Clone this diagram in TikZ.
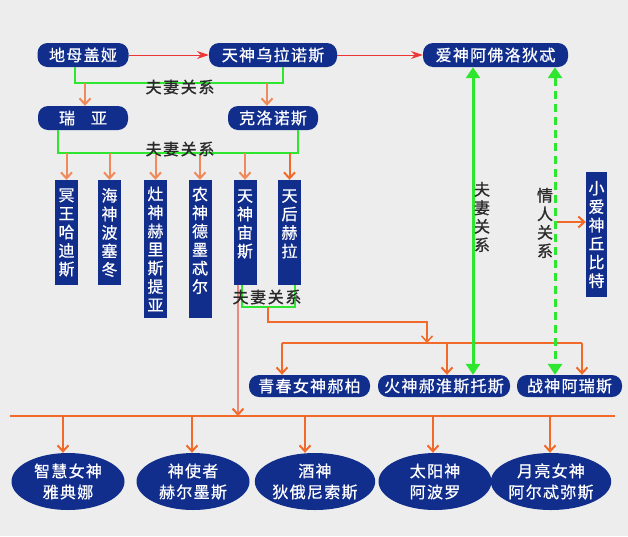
\documentclass[tikz,border=0pt]{standalone}
\usepackage{fontspec}
\setmainfont{Noto Sans CJK SC}
\newfontfamily\boxfont{Noto Sans CJK SC}[LetterSpace=8,FakeBold=0.6]
\newfontfamily\lblfont{Noto Sans CJK SC}[LetterSpace=10,FakeBold=1]
\usetikzlibrary{arrows.meta,shapes.geometric}
\definecolor{cNavy}{HTML}{122E8C}
\definecolor{cBg}{HTML}{EDEDED}
\definecolor{cGreen}{HTML}{2EE62E}
\definecolor{cOrange}{HTML}{F26A2A}
\definecolor{cOrangeL}{HTML}{F08A5A}
\definecolor{cRed}{HTML}{EE3535}
\definecolor{cPink}{HTML}{E88C82}
\definecolor{cLbl}{HTML}{2A2A2A}
\tikzset{
 hbox/.style={rectangle, rounded corners=10pt, fill=cNavy, text=white, font=\boxfont\fontsize{16}{18}\selectfont, minimum height=24pt, inner sep=0pt},
 vbox/.style={rectangle, fill=cNavy, text=white, font=\boxfont\fontsize{16}{18.5}\selectfont, align=center, text width=23pt, minimum width=23pt, inner sep=0pt},
 ebox/.style={ellipse, fill=cNavy, text=white, font=\boxfont\fontsize{16}{21}\selectfont, align=center, minimum width=113pt, minimum height=57pt, inner sep=0pt},
 lbl/.style={text=cLbl, font=\lblfont\fontsize{16}{18.5}\selectfont, inner sep=0pt, align=center},
 gline/.style={draw=cGreen, line width=2pt},
 oarrL/.style={draw=cOrangeL, line width=2pt, -{Straight Barb[length=6pt,width=11pt]}},
 oarr/.style={draw=cOrange, line width=2pt, -{Straight Barb[length=6pt,width=11pt]}},
 oline/.style={draw=cOrange, line width=1.6pt},
 rarr/.style={draw=cRed, line width=1pt, -{Stealth[length=12pt,width=8pt,inset=4pt]}},
 garr/.style={draw=cGreen, line width=3pt, {Triangle[length=11pt,width=14pt]}-{Triangle[length=11pt,width=14pt]}},
 gdash/.style={garr, dash pattern=on 8pt off 5pt},
}
\begin{document}
\begin{tikzpicture}[x=1pt,y=-1pt]
\fill[cBg] (0,0) rectangle (628,536);
\useasboundingbox (0,0) rectangle (628,536);

% top row
\node[hbox, minimum width=91pt] (gaia) at (83,55) {地母盖娅};
\node[hbox, minimum width=128pt] (uranus) at (273,55) {天神乌拉诺斯};
\node[hbox, minimum width=145pt] (aphro) at (495.5,55) {爱神阿佛洛狄忒};
\draw[rarr] (gaia) -- (uranus);
\draw[rarr] (uranus) -- (aphro);

% second row
\node[hbox, minimum width=90pt] (rhea) at (83,118) {瑞\hspace{1em}亚};
\node[hbox, minimum width=90pt] (cronus) at (273,118) {克洛诺斯};
\coordinate (g1) at (180,83);
\draw[gline] ([xshift=-8pt]gaia.south) |- (g1) -| ([xshift=10pt]uranus.south);
\draw[oarrL] ([xshift=2pt]rhea.north |- g1) -- ([xshift=2pt]rhea.north);
\draw[oarrL] ([xshift=-6pt]cronus.north |- g1) -- ([xshift=-6pt]cronus.north);
\node[lbl] (l1) at (180,87) {夫妻关系};

% third row
\node[vbox, minimum height=105pt] (hades) at (66.5,232.5) {冥\\王\\哈\\迪\\斯};
\node[vbox, minimum height=105pt] (poseidon) at (109.5,232.5) {海\\神\\波\\塞\\冬};
\node[vbox, minimum height=138pt] (hestia) at (155.5,249) {灶\\神\\赫\\里\\斯\\提\\亚};
\node[vbox, minimum height=138pt] (demeter) at (200,249) {农\\神\\德\\墨\\忒\\尔\\\mbox{}};
\node[vbox, minimum height=105pt] (zeus) at (245,232.5) {天\\神\\宙\\斯\\\mbox{}};
\node[vbox, minimum height=105pt] (hera) at (289.5,232.5) {天\\后\\赫\\拉\\\mbox{}};
\coordinate (g2) at (180,153);
\draw[gline] ([xshift=-25pt]rhea.south) |- (g2) -| ([xshift=25pt]cronus.south);
\foreach \n in {hades,poseidon,hestia,demeter,zeus}
  \draw[oarrL] (\n.north |- g2) -- (\n.north);
\draw[oarr] (hera.north |- g2) -- (hera.north);
\node[lbl] (l2) at (180,149) {夫妻关系};

% cupid
\node[vbox, text width=21pt, minimum width=21pt, minimum height=125pt] (cupid) at (596.5,234.5) {小\\爱\\神\\丘\\比\\特};

% middle row
\node[hbox, minimum width=121pt, minimum height=22pt] (hebe) at (309.5,386) {青春女神郝柏};
\node[hbox, minimum width=132pt, minimum height=22pt] (heph) at (444,386) {火神郝淮斯托斯};
\node[hbox, minimum width=105pt, minimum height=22pt] (ares) at (569.5,386) {战神阿瑞斯};

% zeus-hera
\coordinate (g3) at (268,307);
\draw[gline] ([xshift=-3pt]zeus.south) |- (g3) -| ([xshift=5.5pt]hera.south);
\coordinate (mb) at (0,343);
\coordinate (o1) at (427,322);
\draw[draw=cOrange, line width=1.5pt, -{Straight Barb[length=6pt,width=11pt]}] (g3) |- (o1) -- (o1 |- mb);
\draw[oline] ([xshift=-27.5pt]hebe.north |- mb) -- ([xshift=12.5pt]ares.north |- mb);
\draw[oarr] ([xshift=-27.5pt]hebe.north |- mb) -- ([xshift=-27.5pt]hebe.north);
\draw[oarr] ([xshift=3pt]heph.north |- mb) -- ([xshift=3pt]heph.north);
\draw[oarr] ([xshift=12.5pt]ares.north |- mb) -- ([xshift=12.5pt]ares.north);

% love lines
\coordinate (gx) at (473,0);
\coordinate (dx) at (555,0);
\draw[garr] (aphro.south -| gx) -- (heph.north -| gx);
\draw[gdash] (aphro.south -| dx) -- (ares.north -| dx);
\node[lbl] (l4) at (482,217) {夫\\妻\\关\\系};
\node[lbl] (l5) at (545,223) {情\\人\\关\\系};
\coordinate (ca) at (557,222);
\draw[oarr] (ca) -- (ca -| cupid.west);

% bottom row
\node[ebox] (athena) at (68,481.5) {智慧女神\\雅典娜};
\node[ebox] (hermes) at (193,481.5) {神使者\\赫尔墨斯};
\node[ebox] (dion) at (315,481.5) {酒神\\狄俄尼索斯};
\node[ebox] (apollo) at (435,481.5) {太阳神\\阿波罗};
\node[ebox] (artemis) at (551,481.5) {月亮女神\\阿尔忒弥斯};
\coordinate (busL) at (10,416);
\coordinate (busR) at (615,416);
\draw[oline] (busL) -- (busR);
\draw[draw=cPink, line width=1.5pt, -{Straight Barb[length=6pt,width=11pt,color=cOrange,line width=2pt]}] ([xshift=-7pt]zeus.south) -- ([xshift=-7pt]zeus.south |- busL);
\node[lbl] (l3) at (267,297) {夫妻关系};
\draw[oarr] ([xshift=-5pt]athena.north |- busL) -- ([xshift=-5pt]athena.north);
\draw[oarr] ([xshift=-1pt]hermes.north |- busL) -- ([xshift=-1pt]hermes.north);
\draw[oarr] ([xshift=-10pt]dion.north |- busL) -- ([xshift=-10pt]dion.north);
\draw[oarr] ([xshift=-2pt]apollo.north |- busL) -- ([xshift=-2pt]apollo.north);
\draw[oarr] ([xshift=-1pt]artemis.north |- busL) -- ([xshift=-1pt]artemis.north);
\end{tikzpicture}
\end{document}
